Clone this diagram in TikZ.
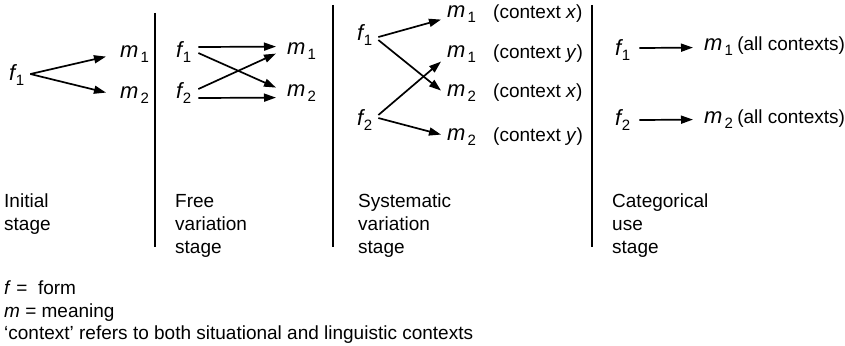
\documentclass[tikz,border=0pt]{standalone}
\usepackage{fontspec}
\setmainfont{Liberation Sans}
\usetikzlibrary{arrows.meta}
\newcommand\fsz{\fontsize{19}{23}\selectfont}
\newcommand\legsz{\fontsize{19}{22.5}\selectfont}
\newcommand\sbs[1]{\raisebox{-5pt}{\fontsize{15}{15}\selectfont #1}}
\newcommand\ff[1]{{\fontsize{22}{22}\selectfont\itshape f}\kern0.5pt\sbs{#1}}
\newcommand\mm[1]{{\fontsize{22}{22}\selectfont\itshape m}\kern2pt\sbs{#1}}
\begin{document}
\begin{tikzpicture}[x=1pt,y=-1pt,
  lbl/.style={anchor=base west, inner sep=0pt, font=\fsz},
  stagelbl/.style={anchor=north west, inner sep=0pt, align=left, font=\fsz},
  arr/.style={line width=1.7pt, -{Triangle[length=12pt,width=8pt]}},
  divider/.style={line width=2pt}]
\useasboundingbox (0,0) rectangle (845,345);

% dividers
\draw[divider] (155,13) -- (155,247);
\draw[divider] (333,5) -- (333,247);
\draw[divider] (592,5) -- (592,247);

% panel 1: initial stage
\node[lbl] (f1a) at (9,80.5) {\ff{1}};
\node[lbl] (m1a) at (120,58) {\mm{1}};
\node[lbl] (m2a) at (120,98) {\mm{2}};
\draw[arr] ([xshift=6pt,yshift=1pt]f1a.east) -- ([xshift=-14pt,yshift=-2pt]m1a.west);
\draw[arr] ([xshift=6pt,yshift=1pt]f1a.east) -- ([xshift=-14pt,yshift=2pt]m2a.west);

% panel 2: free variation
\node[lbl] (f1b) at (176,57.5) {\ff{1}};
\node[lbl] (f2b) at (176,98.5) {\ff{2}};
\node[lbl] (m1b) at (287,55) {\mm{1}};
\node[lbl] (m2b) at (287,96) {\mm{2}};
\draw[arr] ([xshift=7pt,yshift=5pt]f1b.east) -- ([xshift=-11pt,yshift=5pt]m1b.west);
\draw[arr] ([xshift=7pt,yshift=-1pt]f1b.east) -- ([xshift=-11pt,yshift=5pt]m2b.west);
\draw[arr] ([xshift=7pt,yshift=4pt]f2b.east) -- ([xshift=-11pt,yshift=-2pt]m1b.west);
\draw[arr] ([xshift=7pt,yshift=-5pt]f2b.east) -- ([xshift=-11pt,yshift=-5pt]m2b.west);

% panel 3: systematic variation
\node[lbl] (f1c) at (357,40.5) {\ff{1}};
\node[lbl] (f2c) at (357,125.5) {\ff{2}};
\node[lbl] (m1x) at (447,18) {\mm{1}};
\node[lbl] (m1y) at (447,58) {\mm{1}};
\node[lbl] (m2x) at (447,96) {\mm{2}};
\node[lbl] (m2y) at (447,140) {\mm{2}};
\node[lbl] (c1) at (493,19) {(context \textit{x})};
\node[lbl] (c2) at (493,59) {(context \textit{y})};
\node[lbl] (c3) at (493,97) {(context \textit{x})};
\node[lbl] (c4) at (493,141) {(context \textit{y})};
\draw[arr] ([xshift=6pt,yshift=-2pt]f1c.east) -- ([xshift=-6pt,yshift=-5pt]m1x.west);
\draw[arr] ([xshift=6pt,yshift=-5pt]f1c.east) -- ([xshift=-6pt,yshift=2pt]m2x.west);
\draw[arr] ([xshift=6pt,yshift=5pt]f2c.east) -- ([xshift=-6pt,yshift=-7pt]m1y.west);
\draw[arr] ([xshift=6pt,yshift=2pt]f2c.east) -- ([xshift=-6pt,yshift=2pt]m2y.west);

% panel 4: categorical use
\node[lbl] (f1d) at (615,55.5) {\ff{1}};
\node[lbl] (m1d) at (704,51) {\mm{1}};
\node[lbl, anchor=base west] (a1) at ([xshift=4pt]m1d.base east) {(all contexts)};
\node[lbl] (f2d) at (615,125.5) {\ff{2}};
\node[lbl] (m2d) at (704,123) {\mm{2}};
\node[lbl, anchor=base west] (a2) at ([xshift=4pt]m2d.base east) {(all contexts)};
\draw[arr] ([xshift=9pt,yshift=2pt]f1d.east) -- ([xshift=-11pt,yshift=0pt]m1d.west);
\draw[arr] ([xshift=9pt,yshift=0pt]f2d.east) -- ([xshift=-11pt,yshift=0pt]m2d.west);

% stage labels
\node[stagelbl] (s1) at (4,194) {Initial\\stage};
\node[stagelbl] (s2) at (175,194) {Free\\variation\\stage};
\node[stagelbl] (s3) at (358,194) {Systematic\\variation\\stage};
\node[stagelbl] (s4) at (612,194) {Categorical\\use\\stage};

% legend
\node[stagelbl, font=\legsz] (leg) at (4,281) {\textit{f} =\ \ form\\\textit{m} = meaning\\‘context’ refers to both situational and linguistic contexts};
\end{tikzpicture}
\end{document}
